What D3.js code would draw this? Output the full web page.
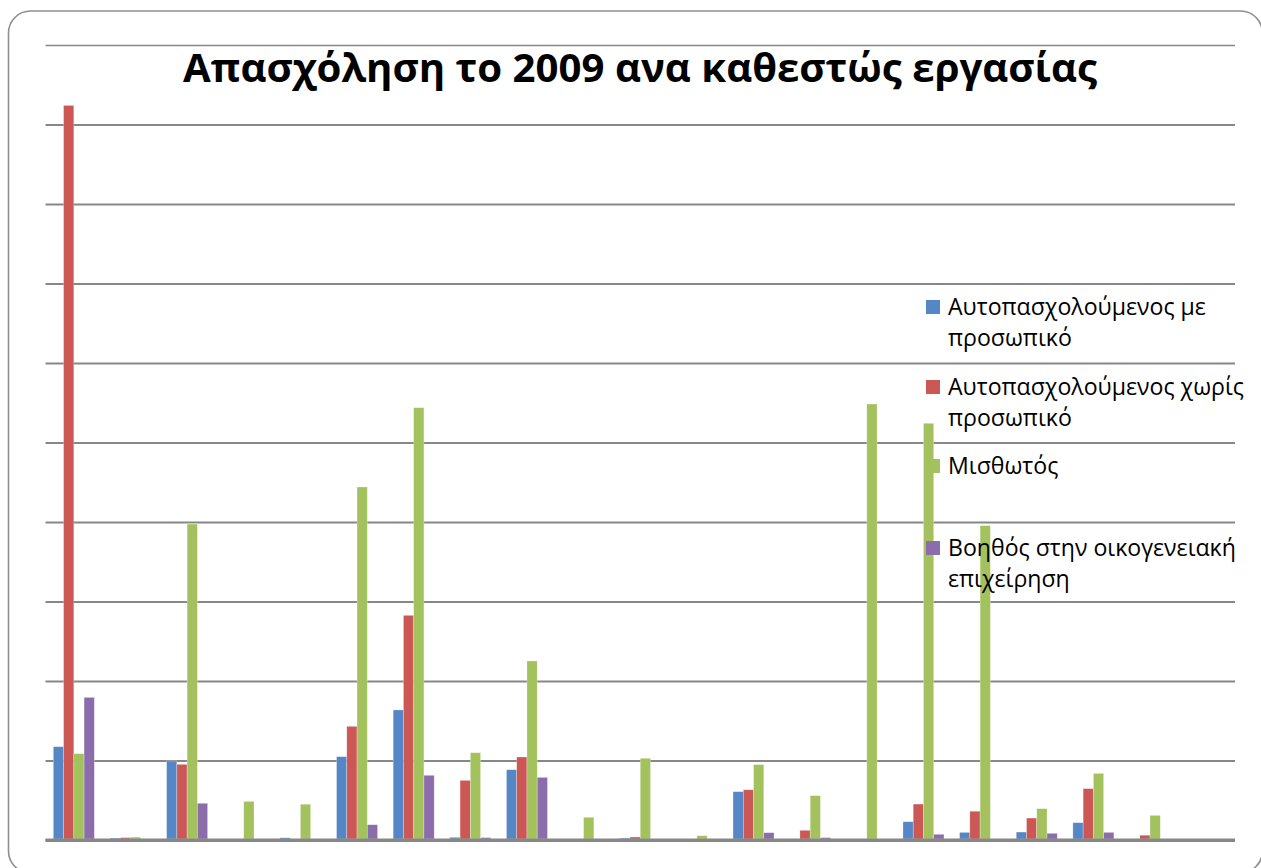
<!DOCTYPE html>
<html>
<head>
<meta charset="utf-8">
<script src="https://cdn.jsdelivr.net/npm/d3@7"></script>
<style>
  html, body { margin: 0; padding: 0; background: #ffffff; }
  svg { display: block; }
</style>
</head>
<body>
<svg id="chart" width="1261" height="868"></svg>
<script>
// ---- data (values in thousands) ----
const title = "Απασχόληση το 2009 ανα καθεστώς εργασίας";
const categories = ["A","B","C","D","E","F","G","H","I","J","K","L","M","N","O","P","Q","R","S","T","U"];
const seriesNames = [
  "Αυτοπασχολούμενος με προσωπικό",
  "Αυτοπασχολούμενος χωρίς προσωπικό",
  "Μισθωτός",
  "Βοηθός στην οικογενειακή επιχείρηση"
];
const legendLines = [
  ["Αυτοπασχολούμενος με", "προσωπικό"],
  ["Αυτοπασχολούμενος χωρίς", "προσωπικό"],
  ["Μισθωτός"],
  ["Βοηθός στην οικογενειακή", "επιχείρηση"]
];
const selfEmployedWithStaff    = [58.7, 1.2, 49.7, 0, 1.4, 52.4, 81.8, 1.7, 44.2, 0, 1.2, 0, 30.4, 0, 0, 11.5, 4.8, 5.0, 10.9, 0, 0];
const selfEmployedWithoutStaff = [462, 1.5, 47.6, 0, 0, 71.5, 141.3, 37.5, 52.2, 0, 1.9, 0, 31.6, 6.1, 0, 22.6, 18.1, 13.8, 32.3, 3.0, 0];
const employees                = [54.3, 1.8, 198.7, 24.3, 22.5, 222, 271.9, 54.9, 112.6, 14.3, 51.4, 2.7, 47.4, 27.9, 274.2, 262.1, 197.7, 19.7, 41.9, 15.5, 0];
const familyHelpers            = [89.7, 0, 23.1, 0, 0, 9.6, 40.7, 1.5, 39.4, 0, 0, 0, 4.6, 1.5, 0, 3.6, 0, 4.2, 4.8, 0, 0];
const yTicks = [0, 50, 100, 150, 200, 250, 300, 350, 400, 450, 500];

const seriesValues = [selfEmployedWithStaff, selfEmployedWithoutStaff, employees, familyHelpers];
const colors = ["#5587c7", "#cb5855", "#a3c25e", "#8a6daa"];

// ---- layout ----
const svg = d3.select("#chart");
const plot = { left: 45.5, right: 1235, top: 45, bottom: 840 };

// frame
svg.append("rect")
  .attr("x", 8.5).attr("y", 11)
  .attr("width", 1254).attr("height", 862)
  .attr("rx", 22).attr("ry", 22)
  .attr("fill", "none")
  .attr("stroke", "#8f8f8f")
  .attr("stroke-width", 1.6);

const x0 = d3.scaleBand()
  .domain(categories)
  .range([plot.left, plot.right])
  .paddingInner(0.276)
  .paddingOuter(0.138);
const x1 = d3.scaleBand()
  .domain(d3.range(seriesNames.length))
  .range([0, x0.bandwidth()]);
const y = d3.scaleLinear()
  .domain([0, 500])
  .range([plot.bottom, plot.top]);

// gridlines via axis
const yAxis = d3.axisLeft(y)
  .tickValues(yTicks)
  .tickSize(-(plot.right - plot.left))
  .tickFormat("");
const gAxis = svg.append("g")
  .attr("transform", `translate(${plot.left},0)`)
  .call(yAxis);
gAxis.select(".domain").remove();
gAxis.selectAll(".tick line")
  .attr("stroke", "#878787")
  .attr("stroke-width", d => d === 0 ? 3 : (d === 500 ? 1.5 : 2.2));

// bars
const groups = svg.append("g").selectAll("g")
  .data(categories)
  .join("g")
  .attr("transform", d => `translate(${x0(d)},0)`);

groups.selectAll("rect")
  .data((c, i) => seriesValues.map((vals, s) => ({ s, v: vals[i] })))
  .join("rect")
  .filter(d => d.v > 0)
  .attr("x", d => x1(d.s))
  .attr("width", x1.bandwidth())
  .attr("y", d => y(d.v))
  .attr("height", d => plot.bottom - 1 - y(d.v) > 0 ? plot.bottom - 1 - y(d.v) : 0.8)
  .attr("fill", d => colors[d.s])
  .attr("stroke", "rgba(255,255,255,0.45)")
  .attr("stroke-width", 0.6);

// redraw baseline on top
svg.append("line")
  .attr("x1", plot.left).attr("x2", plot.right)
  .attr("y1", y(0)).attr("y2", y(0))
  .attr("stroke", "#878787").attr("stroke-width", 3);

// title
const t = svg.append("text")
  .attr("x", (183 + 1097) / 2)
  .attr("y", 82)
  .attr("text-anchor", "middle")
  .attr("font-family", "'Open Sans', 'DejaVu Sans', sans-serif")
  .attr("font-weight", "bold")
  .attr("font-size", 36)
  .attr("fill", "#000")
  .text(title);
{
  const w = t.node().getComputedTextLength();
  const target = 914;
  t.attr("font-size", 36 * target / w);
}

// legend
const legend = svg.append("g");
const itemTops = [307, 387, 466, 548];
const lineGap = 31;
let fs = 20;
const legendTexts = [];
legendLines.forEach((lines, i) => {
  legend.append("rect")
    .attr("x", 926).attr("y", itemTops[i] - 7)
    .attr("width", 14).attr("height", 14)
    .attr("fill", colors[i]);
  lines.forEach((ln, j) => {
    const tx = legend.append("text")
      .attr("x", 948)
      .attr("y", itemTops[i] + j * lineGap)
      .attr("dy", "0.35em")
      .attr("font-family", "'Open Sans', 'DejaVu Sans', sans-serif")
      .attr("font-size", fs)
      .attr("fill", "#000")
      .text(ln);
    legendTexts.push(tx);
  });
});
{
  // fit longest legend line to the reference width
  const ref = legendTexts[2].node().getComputedTextLength(); // "Αυτοπασχολούμενος χωρίς"
  const target = 1244 - 948;
  const nfs = fs * target / ref;
  legendTexts.forEach(tx => tx.attr("font-size", nfs));
}
</script>
</body>
</html>
